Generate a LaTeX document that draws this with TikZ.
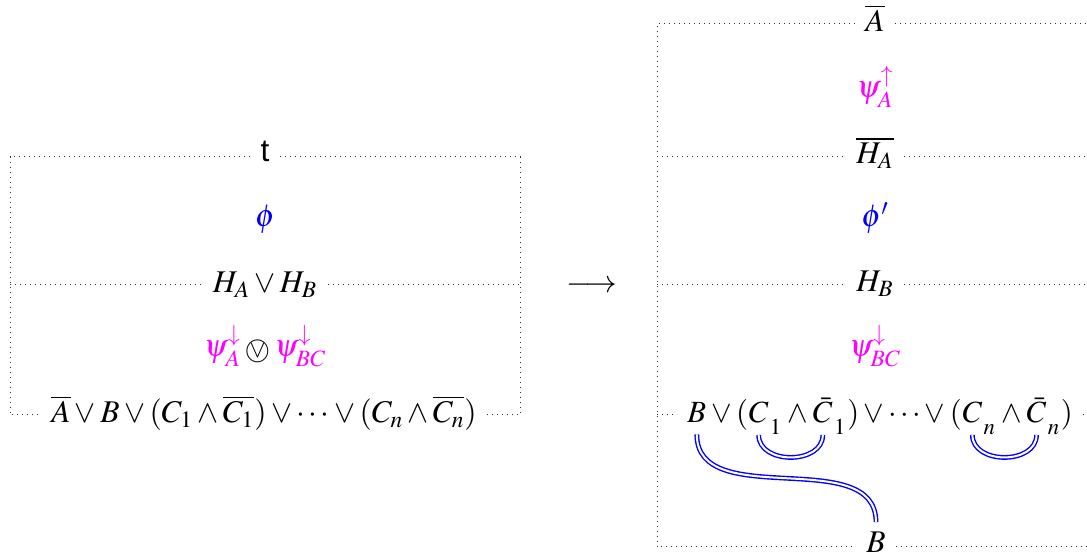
\documentclass[tikz,border=0pt]{standalone}
\IfFileExists{newtxmath.sty}{\usepackage{newtxmath}}{\IfFileExists{mathptmx.sty}{\usepackage{mathptmx}}{}}
\usepackage[no-math]{fontspec}
\setmainfont{Liberation Serif}
\setsansfont{Liberation Sans}
\usetikzlibrary{calc}
\definecolor{phiblue}{RGB}{0,0,255}
\definecolor{psimag}{RGB}{255,0,255}
\newcommand\myovee{\ifdefined\circledvee\circledvee\else\mathbin{\vcenter{\hbox{\scalebox{0.78}{\ooalign{$\bigcirc$\cr\hidewidth$\vee$\hidewidth\cr}}}}}\fi}
\begin{document}
\begin{tikzpicture}[x=0.5pt,y=-0.5pt,
  lab/.style={inner xsep=5pt,inner ysep=2pt,anchor=base,font=\fontsize{15.8}{19}\selectfont},
  ch/.style={inner xsep=0pt,inner ysep=5.5pt,anchor=base west,font=\fontsize{15.4}{19}\selectfont},
  sub/.style={ch,xshift=0.3pt,yshift=-3.5pt},
  dots/.style={draw=black!80,dotted,line width=0.5pt},
  dbl/.style={draw=blue,double=white,line width=0.7pt,double distance=1pt}]
\useasboundingbox (0,0) rectangle (1087,560);
% ---------- left box ----------
\coordinate (L1a) at (10,157); \coordinate (L1b) at (520,157);
\coordinate (L2a) at (10,285); \coordinate (L2b) at (520,285);
\coordinate (L3a) at (10,415); \coordinate (L3b) at (520,415);
\node[lab] (t) at (265,162) {\sffamily t};
\node[lab,text=phiblue] (phi) at (265,227) {$\phi$};
\node[lab] (hab) at (265,293) {$H_A \vee H_B$};
\node[lab] (psi) at (265,357) {$\textcolor{psimag}{\psi^{\downarrow}_{A}} \myovee \textcolor{psimag}{\psi^{\downarrow}_{BC}}$};
\node[lab] (f1) at (264,423) {$\overline{A}\vee B\vee(C_1\wedge\overline{C_1})\vee\cdots\vee(C_n\wedge\overline{C_n})$};
\draw[dots] (t.west |- L1a) -- (L1a) -- (L3a) -- (f1.west |- L3a);
\draw[dots] (t.east |- L1b) -- (L1b) -- (L3b) -- (f1.east |- L3b);
\draw[dots] (L2a) -- (hab.west |- L2a);
\draw[dots] (hab.east |- L2b) -- (L2b);
% ---------- arrow ----------
\node[lab] (arr) at (592,293) {$\longrightarrow$};
% ---------- right box ----------
\coordinate (R0a) at (657,24);  \coordinate (R0b) at (1087,24);
\coordinate (R1a) at (657,157); \coordinate (R1b) at (1087,157);
\coordinate (R2a) at (657,285); \coordinate (R2b) at (1087,285);
\coordinate (R3a) at (657,415); \coordinate (R3b) at (1087,415);
\coordinate (R4a) at (657,547); \coordinate (R4b) at (1087,547);
\node[lab] (abar) at (875,32) {$\overline{A}$};
\node[lab,text=psimag] (psiu) at (875,98) {$\psi^{\uparrow}_{A}$};
\node[lab] (hbar) at (875,164) {$\overline{H_A}$};
\node[lab,text=phiblue] (phip) at (875,227) {$\phi'$};
\node[lab] (hb) at (875,292) {$H_B$};
\node[lab,text=psimag] (psibc) at (875,357) {$\psi^{\downarrow}_{BC}$};
\node[lab,inner ysep=5pt] (bb) at (876,553) {$B$};
% bottom formula built as a chain
\node[ch] (fb) at (687,423) {$B$};
\node[ch] (f2) at (fb.base east) {${}\vee{}($};
\node[ch] (fc1) at (f2.base east) {$C$};
\node[sub] (fs1) at (fc1.base east) {$_1$};
\node[ch] (f3) at (fs1.base east |- fc1.base) {${}\wedge{}$};
\node[ch] (fcb1) at (f3.base east) {$\bar{C}$};
\node[sub] (fs2) at (fcb1.base east) {$_1$};
\node[ch] (f4) at (fs2.base east |- fcb1.base) {$)\vee\cdots\vee($};
\node[ch] (fcn) at (f4.base east) {$C$};
\node[sub] (fs3) at (fcn.base east) {$_n$};
\node[ch] (f5) at (fs3.base east |- fcn.base) {${}\wedge{}$};
\node[ch] (fcbn) at (f5.base east) {$\bar{C}$};
\node[sub] (fs4) at (fcbn.base east) {$_n$};
\node[ch] (f6) at (fs4.base east |- fcbn.base) {$)$};
\draw[dots] (abar.west |- R0a) -- (R0a) -- (R4a) -- (bb.west |- R4a);
\draw[dots] (abar.east |- R0b) -- (R0b);
\draw[dots] (R1a) -- (hbar.west |- R1a);
\draw[dots] (hbar.east |- R1b) -- (R1b);
\draw[dots] (R2a) -- (hb.west |- R2a);
\draw[dots] (hb.east |- R2b) -- (R2b);
\draw[dots,shorten >=5pt] (R3a) -- (fb.west |- R3a);
\draw[dots,shorten <=5pt] (f6.east |- R3b) -- (R3b);
\draw[dots] (bb.east |- R4b) -- (R4b);
% links
\draw[dbl] (fc1.south) to[out=-90,in=-90,looseness=1.2] (fcb1.south);
\draw[dbl] (fcn.south) to[out=-90,in=-90,looseness=1.2] (fcbn.south);
\draw[dbl] (fb.south) to[out=-90,in=90] (bb.north);
\end{tikzpicture}
\end{document}
